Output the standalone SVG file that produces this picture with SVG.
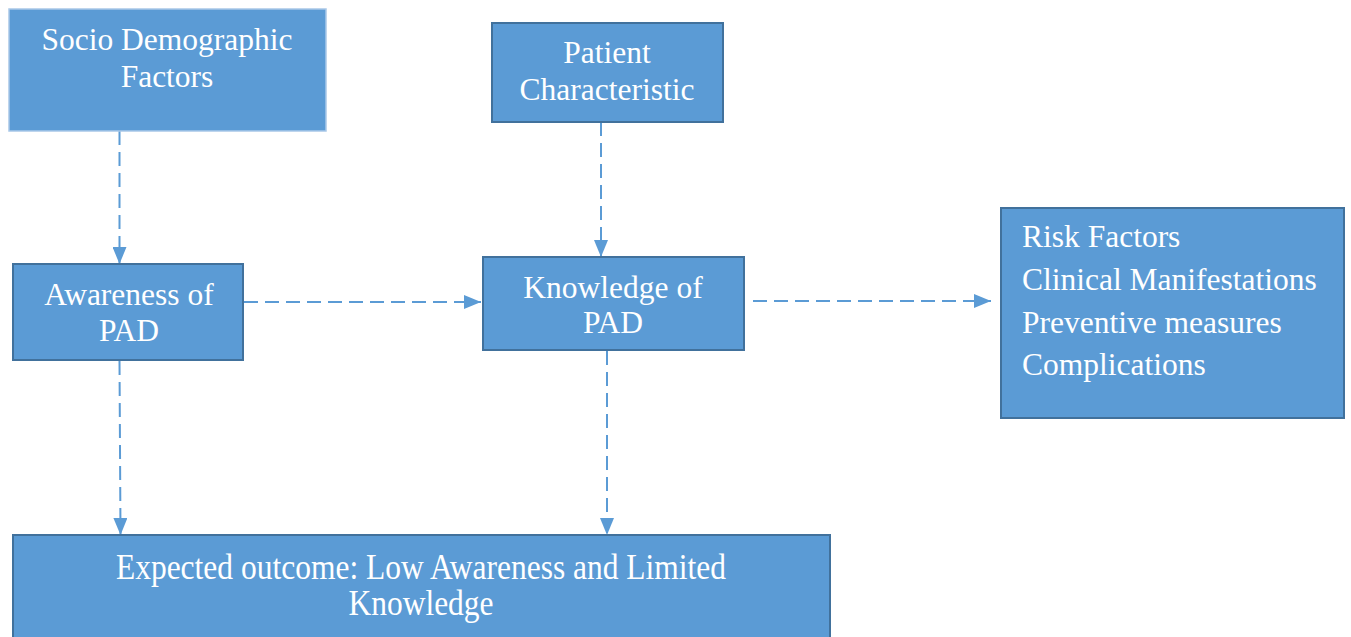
<svg xmlns="http://www.w3.org/2000/svg" width="1351" height="637" viewBox="0 0 1351 637">
  <style>
    .box { fill: #5B9BD5; stroke: #41719C; stroke-width: 2; }
    .box-light { fill: #5B9BD5; stroke: #A9C8E8; stroke-width: 1.5; }
    .lbl { font-family: "Liberation Serif", "Times New Roman", serif; font-size: 31.5px; fill: #FFFFFF; }
    .mid { text-anchor: middle; }
    .conn { fill: none; stroke: #5B9BD5; stroke-width: 2; stroke-dasharray: 14 7; }
  </style>
  <defs>
    <marker id="arrow" markerUnits="userSpaceOnUse" markerWidth="17" markerHeight="14" refX="17" refY="7" orient="auto">
      <path d="M0,0 L17,7 L0,14 z" fill="#5B9BD5"/>
    </marker>
  </defs>
  <rect width="1351" height="637" fill="#FFFFFF"/>

  <g id="connectors">
    <line class="conn" x1="119.5" y1="131" x2="119.5" y2="264" marker-end="url(#arrow)"/>
    <line class="conn" x1="601" y1="122" x2="601" y2="257" marker-end="url(#arrow)"/>
    <line class="conn" x1="244" y1="302" x2="481" y2="302" marker-end="url(#arrow)"/>
    <line class="conn" x1="753" y1="301" x2="991" y2="301" marker-end="url(#arrow)"/>
    <line class="conn" x1="119.5" y1="361" x2="120.5" y2="535" marker-end="url(#arrow)"/>
    <line class="conn" x1="607" y1="351" x2="607" y2="535" marker-end="url(#arrow)"/>
  </g>

  <g id="socio">
    <rect class="box-light" x="9" y="9" width="317" height="122"/>
    <text class="lbl mid" x="167" y="50">Socio Demographic</text>
    <text class="lbl mid" x="167" y="87">Factors</text>
  </g>

  <g id="patient">
    <rect class="box" x="492" y="23" width="231" height="99"/>
    <text class="lbl mid" x="607" y="63">Patient</text>
    <text class="lbl mid" x="607" y="100">Characteristic</text>
  </g>

  <g id="awareness">
    <rect class="box" x="13" y="264" width="230" height="96"/>
    <text class="lbl mid" x="129" y="305">Awareness of</text>
    <text class="lbl mid" x="129" y="341">PAD</text>
  </g>

  <g id="knowledge">
    <rect class="box" x="483" y="257" width="261" height="93"/>
    <text class="lbl mid" x="613" y="298">Knowledge of</text>
    <text class="lbl mid" x="613" y="333">PAD</text>
  </g>

  <g id="outcomes">
    <rect class="box" x="1001" y="208" width="343" height="210"/>
    <text class="lbl" x="1022" y="247">Risk Factors</text>
    <text class="lbl" x="1022" y="290">Clinical Manifestations</text>
    <text class="lbl" x="1022" y="333">Preventive measures</text>
    <text class="lbl" x="1022" y="375">Complications</text>
  </g>

  <g id="expected">
    <rect class="box" x="13" y="535" width="817" height="104"/>
    <g transform="translate(421,579) scale(1,1.15)">
      <text class="lbl mid" x="0" y="0">Expected outcome: Low Awareness and Limited</text>
      <text class="lbl mid" x="0" y="31">Knowledge</text>
    </g>
  </g>
</svg>
